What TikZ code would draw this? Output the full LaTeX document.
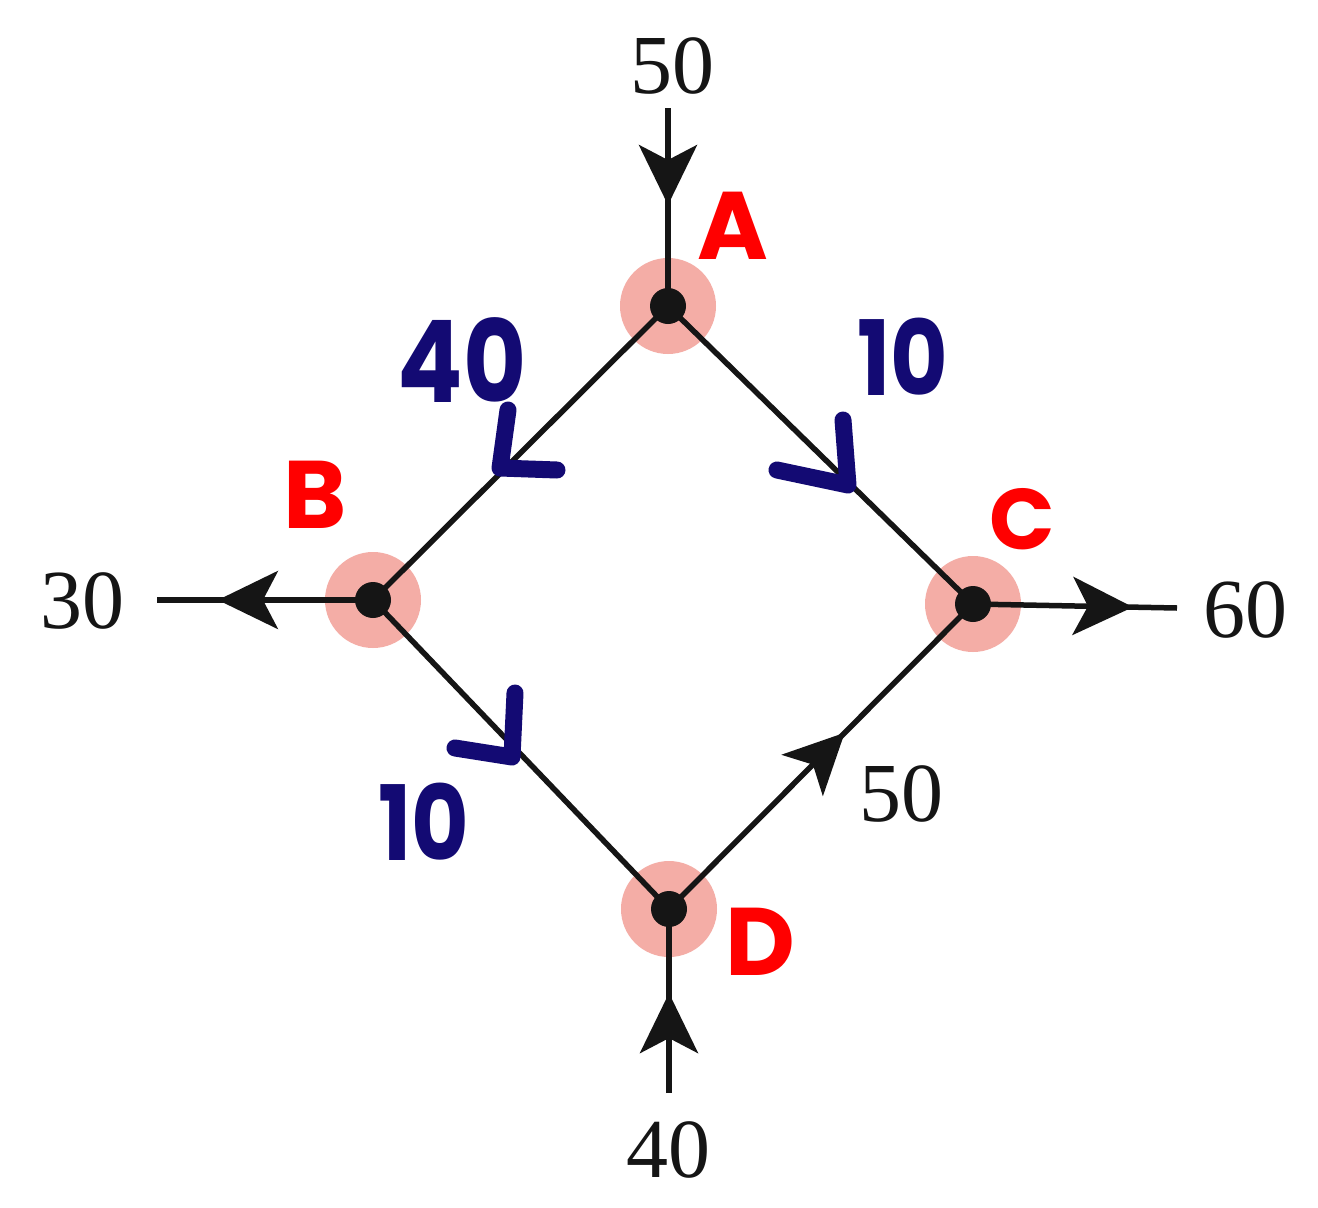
\documentclass[tikz,border=0pt]{standalone}
\usepackage{fontspec}
\usepackage{graphicx}
\setmainfont{Liberation Serif}
\newfontfamily\handfont{Poppins}
\usetikzlibrary{arrows.meta,decorations.markings}
\definecolor{pinkhl}{HTML}{F4ADA6}
\definecolor{navyink}{HTML}{130A73}
\definecolor{redink}{HTML}{FF0000}
\definecolor{inkblack}{HTML}{151515}
\tikzset{
  edge/.style={draw=inkblack,line width=5.5pt},
  dot/.style={circle,fill=inkblack,inner sep=0pt,minimum size=36pt},
  halo/.style={fill=pinkhl},
  midarrow/.style={postaction={decorate},decoration={markings,
      mark=at position #1 with {\arrow{Stealth[length=60pt,width=58pt,inset=15pt]}}}},
  flowlabel/.style={font=\fontsize{84}{90}\selectfont,inner sep=0pt,text=inkblack},
  bluelabel/.style={font=\handfont\bfseries\fontsize{104}{110}\selectfont,inner sep=0pt,text=navyink},
  redlabel/.style={font=\handfont\bfseries\fontsize{96}{110}\selectfont,inner sep=0pt,text=redink},
  chevron/.style={draw=navyink,line width=17pt,line cap=round,line join=round},
}
\begin{document}
\begin{tikzpicture}[x=1pt,y=-1pt]
\useasboundingbox[fill=white] (0,0) rectangle (1318,1208);
% junctions
\coordinate (A) at (668,306);
\coordinate (B) at (373,600);
\coordinate (C) at (973,604);
\coordinate (D) at (669,909);
% free ends
\coordinate (tA) at (668,108);
\coordinate (tB) at (157,600);
\coordinate (tC) at (1177,608);
\coordinate (tD) at (669,1093);
% highlight halos
\foreach \p in {A,B,C,D} \fill[halo] (\p) circle (48);
% edges
\draw[edge] (A) -- (B);
\draw[edge] (A) -- (C);
\draw[edge] (B) -- (D);
\draw[edge,midarrow=0.578] (D) -- (C);
\draw[edge,midarrow=0.49] (tA) -- (A);
\draw[edge,midarrow=0.718] (B) -- (tB);
\draw[edge,midarrow=0.784] (C) -- (tC);
\draw[edge,midarrow=0.543] (tD) -- (D);
% dots
\foreach \p in {A,B,C,D} \node[dot] (\p dot) at (\p) {};
% printed labels
\node[flowlabel] (l50t) at (672,66) {50};
\node[flowlabel] (l30) at (82,601) {30};
\node[flowlabel] (l60) at (1245,610) {60};
\node[flowlabel] (l40b) at (668,1150) {40};
\node[flowlabel] (l50r) at (901,794) {50};
% handwritten red letters
\node[redlabel] (la) at (733,226) {A};
\node[redlabel] (lb) at (315,495) {B};
\node[redlabel,font=\handfont\bfseries\fontsize{86}{95}\selectfont] (lc) at (1022,519) {C};
\node[redlabel] (ld) at (760,942) {D};
% handwritten blue values
\node[bluelabel,font=\handfont\bfseries\fontsize{114}{120}\selectfont] (v40) at (462,360) {\scalebox{0.85}[1]{40}};
\node[bluelabel] (v10r) at (903,357) {\scalebox{0.85}[1]{10}};
\node[bluelabel] (v10l) at (424,822) {\scalebox{0.85}[1]{10}};
% handwritten chevrons
\draw[chevron] (508,410) -- (500,468) -- (557,470);
\draw[chevron] (843,420) -- (848,485) -- (777,470);
\draw[chevron] (515,693) -- (512,757) -- (455,748);
\end{tikzpicture}
\end{document}
